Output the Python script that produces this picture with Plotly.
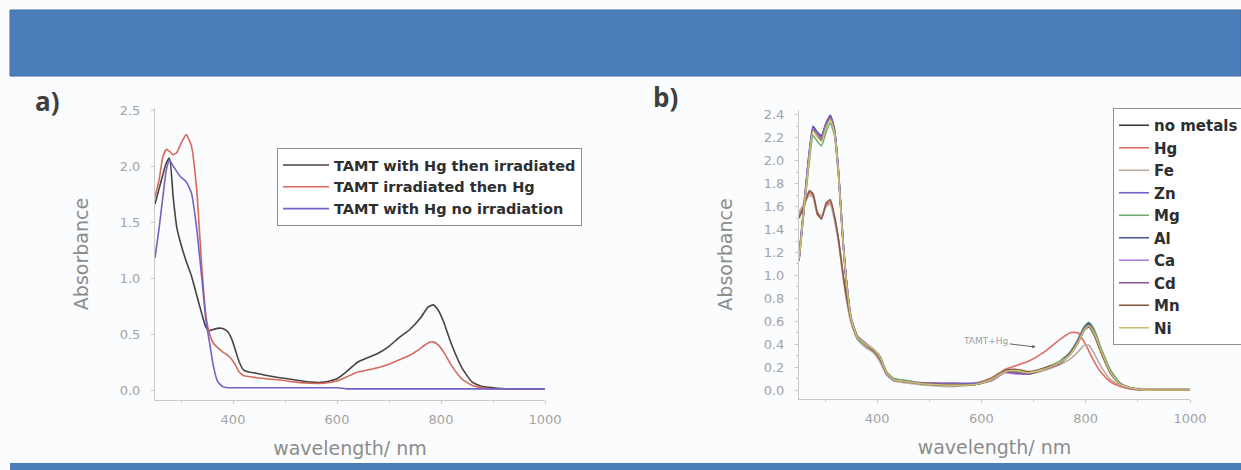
import plotly.graph_objects as go

W, H = 1241, 470

# ---------------- panel a) data ----------------
wl_a = [250, 258, 265, 272, 278, 285, 292, 300, 310, 320, 330, 340, 348, 355, 362, 370, 380,
        390, 398, 405, 412, 420, 430, 445, 465, 490, 520, 550, 575, 600, 620, 640, 660, 680,
        700, 720, 740, 760, 775, 785, 795, 805, 820, 840, 860, 880, 900, 930, 1000]
a_hg_then_irr = [1.66, 1.80, 1.92, 2.03, 2.07, 1.72, 1.45, 1.30, 1.15, 1.02, 0.85, 0.68, 0.56, 0.53,
                 0.54, 0.55, 0.55, 0.52, 0.45, 0.35, 0.25, 0.18, 0.16, 0.15, 0.13, 0.11, 0.09, 0.07,
                 0.07, 0.10, 0.17, 0.25, 0.29, 0.33, 0.39, 0.47, 0.54, 0.64, 0.74, 0.76, 0.71, 0.61,
                 0.41, 0.20, 0.07, 0.03, 0.02, 0.01, 0.01]
a_irr_then_hg = [1.72, 1.88, 2.08, 2.15, 2.13, 2.10, 2.12, 2.20, 2.28, 2.18, 1.80, 1.10, 0.66, 0.50,
                 0.42, 0.38, 0.34, 0.31, 0.27, 0.22, 0.16, 0.13, 0.12, 0.11, 0.10, 0.09, 0.07, 0.06,
                 0.06, 0.08, 0.12, 0.16, 0.18, 0.20, 0.23, 0.27, 0.31, 0.37, 0.42, 0.43, 0.40, 0.34,
                 0.22, 0.10, 0.04, 0.02, 0.01, 0.01, 0.01]
a_hg_no_irr = [1.18, 1.45, 1.72, 1.97, 2.05, 2.00, 1.95, 1.90, 1.86, 1.76, 1.45, 1.00, 0.62, 0.42,
               0.22, 0.08, 0.03, 0.02, 0.02, 0.02, 0.02, 0.02, 0.02, 0.02, 0.02, 0.02, 0.02, 0.02,
               0.02, 0.02, 0.01, 0.01, 0.01, 0.01, 0.01, 0.01, 0.01, 0.01, 0.01, 0.01, 0.01, 0.01,
               0.01, 0.01, 0.01, 0.01, 0.01, 0.01, 0.01]
a_names = ["TAMT with Hg then irradiated", "TAMT irradiated then Hg", "TAMT with Hg no irradiation"]
a_colors = ["#4a4242", "#d46a5c", "#7462c2"]

# ---------------- panel b) data ----------------
wl_b = [250, 260, 270, 277, 285, 293, 302, 310, 318, 326, 334, 342, 350, 362, 378, 394, 406, 418,
        432, 460, 500, 550, 590, 620, 645, 665, 690, 720, 750, 770, 785, 797, 806, 816, 830, 848,
        866, 885, 910, 950, 1000]
b_no_metals = [1.13, 1.60, 2.05, 2.27, 2.22, 2.18, 2.30, 2.37, 2.25, 1.88, 1.32, 0.90, 0.62, 0.46,
               0.40, 0.35, 0.28, 0.15, 0.09, 0.07, 0.05, 0.04, 0.05, 0.09, 0.16, 0.15, 0.14, 0.18,
               0.24, 0.32, 0.42, 0.53, 0.57, 0.50, 0.33, 0.15, 0.05, 0.02, 0.00, 0.00, 0.00]
b_hg = [1.52, 1.62, 1.72, 1.70, 1.53, 1.50, 1.61, 1.64, 1.50, 1.30, 1.02, 0.78, 0.60, 0.45, 0.38,
        0.33, 0.25, 0.14, 0.09, 0.07, 0.05, 0.04, 0.06, 0.11, 0.18, 0.21, 0.25, 0.33, 0.44, 0.50,
        0.50, 0.42, 0.34, 0.25, 0.15, 0.07, 0.03, 0.01, 0.00, 0.00, 0.00]
b_fe = [1.55, 1.63, 1.70, 1.68, 1.55, 1.52, 1.60, 1.62, 1.48, 1.28, 1.00, 0.76, 0.58, 0.44, 0.37,
        0.32, 0.24, 0.13, 0.08, 0.06, 0.04, 0.03, 0.05, 0.09, 0.16, 0.15, 0.14, 0.17, 0.22, 0.27,
        0.33, 0.39, 0.39, 0.32, 0.20, 0.09, 0.04, 0.02, 0.01, 0.01, 0.01]
b_zn = [1.15, 1.63, 2.08, 2.29, 2.24, 2.21, 2.33, 2.40, 2.28, 1.90, 1.34, 0.91, 0.63, 0.47, 0.40,
        0.34, 0.27, 0.14, 0.09, 0.07, 0.06, 0.06, 0.06, 0.09, 0.17, 0.16, 0.15, 0.19, 0.25, 0.33,
        0.44, 0.55, 0.58, 0.51, 0.35, 0.16, 0.06, 0.02, 0.00, 0.00, 0.00]
b_mg = [1.14, 1.58, 2.00, 2.22, 2.17, 2.13, 2.25, 2.33, 2.22, 1.86, 1.31, 0.89, 0.61, 0.45, 0.39,
        0.35, 0.29, 0.16, 0.10, 0.08, 0.05, 0.04, 0.05, 0.10, 0.17, 0.16, 0.15, 0.19, 0.25, 0.33,
        0.44, 0.55, 0.59, 0.53, 0.36, 0.17, 0.06, 0.02, 0.00, 0.00, 0.00]
b_al = [1.16, 1.64, 2.09, 2.30, 2.25, 2.22, 2.33, 2.39, 2.27, 1.89, 1.33, 0.90, 0.62, 0.46, 0.40,
        0.35, 0.28, 0.15, 0.09, 0.07, 0.05, 0.05, 0.05, 0.09, 0.16, 0.15, 0.14, 0.18, 0.24, 0.32,
        0.43, 0.54, 0.58, 0.51, 0.34, 0.15, 0.05, 0.02, 0.00, 0.00, 0.00]
b_ca = [1.14, 1.62, 2.07, 2.28, 2.23, 2.20, 2.32, 2.38, 2.26, 1.88, 1.33, 0.91, 0.63, 0.47, 0.41,
        0.35, 0.27, 0.14, 0.08, 0.07, 0.06, 0.05, 0.05, 0.08, 0.15, 0.14, 0.14, 0.18, 0.24, 0.31,
        0.42, 0.53, 0.56, 0.50, 0.33, 0.15, 0.05, 0.02, 0.00, 0.00, 0.00]
b_cd = [1.13, 1.61, 2.06, 2.27, 2.22, 2.19, 2.31, 2.38, 2.25, 1.87, 1.32, 0.90, 0.62, 0.46, 0.40,
        0.34, 0.27, 0.15, 0.09, 0.07, 0.06, 0.05, 0.05, 0.09, 0.16, 0.15, 0.14, 0.18, 0.23, 0.31,
        0.41, 0.52, 0.56, 0.49, 0.33, 0.15, 0.05, 0.02, 0.00, 0.00, 0.00]
b_mn = [1.50, 1.61, 1.74, 1.71, 1.55, 1.49, 1.63, 1.66, 1.52, 1.31, 1.03, 0.79, 0.61, 0.47, 0.40,
        0.34, 0.27, 0.15, 0.09, 0.07, 0.05, 0.04, 0.05, 0.09, 0.17, 0.18, 0.16, 0.19, 0.24, 0.31,
        0.41, 0.52, 0.55, 0.48, 0.32, 0.14, 0.05, 0.02, 0.00, 0.00, 0.00]
b_ni = [1.14, 1.60, 2.04, 2.26, 2.21, 2.17, 2.29, 2.36, 2.24, 1.87, 1.32, 0.90, 0.62, 0.46, 0.40,
        0.35, 0.28, 0.15, 0.09, 0.07, 0.05, 0.04, 0.05, 0.09, 0.16, 0.17, 0.15, 0.18, 0.24, 0.31,
        0.41, 0.52, 0.56, 0.50, 0.34, 0.15, 0.05, 0.02, 0.00, 0.00, 0.00]
b_names = ["no metals", "Hg", "Fe", "Zn", "Mg", "Al", "Ca", "Cd", "Mn", "Ni"]
b_series = [b_no_metals, b_hg, b_fe, b_zn, b_mg, b_al, b_ca, b_cd, b_mn, b_ni]
b_colors = ["#3a3a3a", "#e06b63", "#b9aca2", "#6a62c8", "#6fae6a", "#4f5a9a",
            "#b07ad8", "#8a5a9a", "#8a5a48", "#c8c070"]

x_ticks = [400, 600, 800, 1000]

fig = go.Figure()

for name, ys, col in zip(a_names, [a_hg_then_irr, a_irr_then_hg, a_hg_no_irr], a_colors):
    fig.add_trace(go.Scatter(x=wl_a, y=ys, name=name, mode="lines",
                             line=dict(color=col, width=1.6, shape="spline", smoothing=0.5),
                             xaxis="x", yaxis="y", legend="legend"))

for name, ys, col in zip(b_names, b_series, b_colors):
    fig.add_trace(go.Scatter(x=wl_b, y=ys, name=name, mode="lines",
                             line=dict(color=col, width=1.6, shape="spline", smoothing=0.5),
                             xaxis="x2", yaxis="y2", legend="legend2"))

tick_font = dict(family="DejaVu Sans", size=13, color="#a3a3a3")
title_font = dict(family="DejaVu Sans", size=19, color="#8c8c8c")
axis_common = dict(showgrid=False, zeroline=False, showline=True, linecolor="#c9c9c9",
                   linewidth=1, ticks="outside", ticklen=3, tickcolor="#c9c9c9",
                   tickfont=tick_font)

def px_x(p):
    return p / W

def px_y(p):
    return 1 - p / H

fig.update_layout(
    width=W, height=H,
    margin=dict(l=0, r=0, t=0, b=0, autoexpand=False),
    paper_bgcolor="#fbfcfd", plot_bgcolor="rgba(0,0,0,0)",
    xaxis=dict(axis_common, domain=[px_x(155), px_x(545)], range=[250, 1000],
               tickvals=x_ticks, minor=dict(dtick=100, ticks="outside", ticklen=2, tickcolor="#c9c9c9"),
               anchor="y", ticklabelstandoff=4,
               title=dict(text="wavelength/ nm", font=title_font, standoff=16)),
    yaxis=dict(axis_common, domain=[px_y(400), px_y(108)], range=[-0.0893, 2.518],
               dtick=0.5, tick0=0, tickformat=".1f", anchor="x", ticklabelstandoff=8,
               title=dict(text="Absorbance", font=title_font, standoff=26)),
    xaxis2=dict(axis_common, domain=[px_x(799), px_x(1190)], range=[250, 1000],
                tickvals=x_ticks, minor=dict(dtick=100, ticks="outside", ticklen=2, tickcolor="#c9c9c9"),
                anchor="y2", ticklabelstandoff=4,
                title=dict(text="wavelength/ nm", font=title_font, standoff=16)),
    yaxis2=dict(axis_common, domain=[px_y(399), px_y(110)], range=[-0.0785, 2.443],
                dtick=0.2, tick0=0, tickformat=".1f", anchor="x2", ticklabelstandoff=8,
                minor=dict(dtick=0.1, ticks="outside", ticklen=2, tickcolor="#c9c9c9"),
                title=dict(text="Absorbance", font=title_font, standoff=26)),
    legend=dict(x=px_x(277), y=px_y(148), xanchor="left", yanchor="top",
                bgcolor="#ffffff", bordercolor="#8f8f8f", borderwidth=1, itemwidth=46,
                font=dict(family="DejaVu Sans", size=14.5, color="#2e2e2e", weight="bold"),
                tracegroupgap=0),
    legend2=dict(x=px_x(1113), y=px_y(108), xanchor="left", yanchor="top",
                 bgcolor="#ffffff", bordercolor="#8f8f8f", borderwidth=1,
                 font=dict(family="DejaVu Sans", size=15, color="#2e2e2e", weight="bold"),
                 tracegroupgap=0),
    shapes=[
        dict(type="rect", xref="paper", yref="paper", x0=px_x(10), x1=1.0,
             y0=px_y(76), y1=px_y(10), fillcolor="#4a7ebb",
             line=dict(color="#41699c", width=1), layer="below"),
        dict(type="rect", xref="paper", yref="paper", x0=px_x(10), x1=1.0,
             y0=0, y1=px_y(463), fillcolor="#4a7ebb", line=dict(width=0), layer="below"),
    ],
    annotations=[
        dict(text="a)", xref="paper", yref="paper", x=px_x(33), y=px_y(81),
             xanchor="left", yanchor="top", showarrow=False,
             font=dict(family="Open Sans", size=26, color="#3f3f3f", weight="bold")),
        dict(text="b)", xref="paper", yref="paper", x=px_x(651), y=px_y(77),
             xanchor="left", yanchor="top", showarrow=False,
             font=dict(family="Open Sans", size=26, color="#3f3f3f", weight="bold")),
        dict(text="TAMT+Hg", xref="x2", yref="y2", x=704, y=0.375, ax=-50, ay=-6,
             showarrow=True, arrowhead=2, arrowsize=0.7, arrowwidth=1, arrowcolor="#666666",
             font=dict(family="DejaVu Sans", size=9, color="#a0a0a0")),
    ],
)

fig.write_html("out.html", config={"displayModeBar": False},
               post_script="document.body.style.margin='0';document.body.style.padding='0';"
                           "document.body.style.overflow='hidden';")
